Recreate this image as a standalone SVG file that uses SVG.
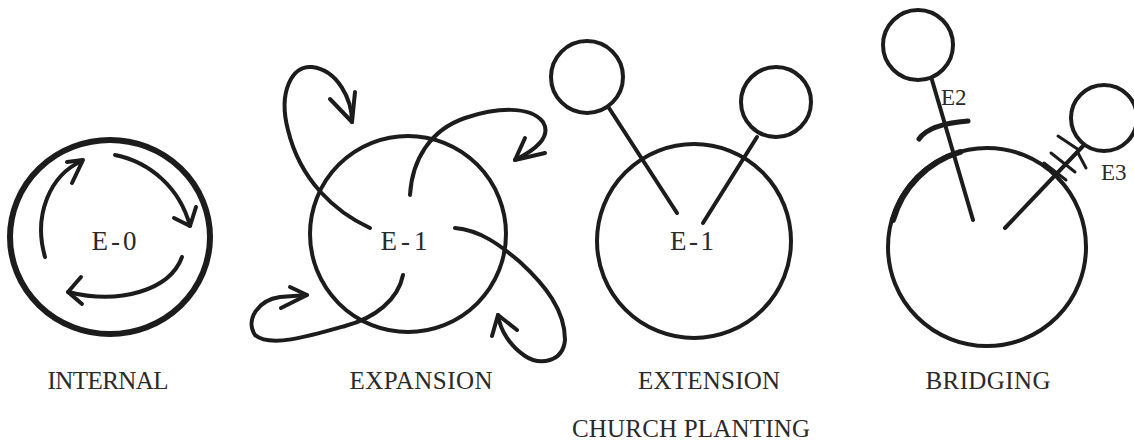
<svg xmlns="http://www.w3.org/2000/svg" width="1134" height="443" viewBox="0 0 1134 443">
<style>
.ln{fill:none;stroke:#1c1c1c;stroke-width:4;stroke-linecap:round;stroke-linejoin:round}
.thick{stroke-width:6}
.ar{fill:none;stroke:#1c1c1c;stroke-width:4;stroke-linecap:round;stroke-linejoin:round}
.lbl{font-family:"Liberation Serif","Times New Roman",serif;font-size:25px;fill:#2a2a2a;text-anchor:middle}
.ctr{font-family:"Liberation Serif","Times New Roman",serif;font-size:27px;fill:#2a2a2a;text-anchor:middle}
.sm{font-family:"Liberation Serif","Times New Roman",serif;font-size:23px;fill:#2a2a2a}
</style>
<rect width="1134" height="443" fill="#ffffff"/>

<g id="internal">
<ellipse class="ln thick" cx="110" cy="237" rx="100" ry="97"/>
<text class="ctr" x="114" y="250" textLength="45" lengthAdjust="spacing">E-0</text>
</g>

<g id="expansion">
<circle class="ln" cx="408" cy="234" r="98"/>
<text class="ctr" x="404" y="250" textLength="47" lengthAdjust="spacing">E-1</text>
</g>

<g id="extension">
<circle class="ln" cx="694" cy="241" r="97"/>
<circle class="ln" cx="587" cy="77" r="36"/>
<circle class="ln" cx="776" cy="102" r="35"/>
<text class="ctr" x="692" y="250" textLength="44" lengthAdjust="spacing">E-1</text>
</g>

<g id="bridging">
<circle class="ln" cx="987" cy="247" r="99"/>
<path class="ln" d="M893,220 A99,99 0 0 1 960,152" style="stroke-width:6"/>
<circle class="ln" cx="918" cy="45" r="35"/>
<circle class="ln" cx="1104" cy="118" r="33"/>
<text class="sm" x="941" y="105">E2</text>
<text class="sm" x="1101" y="180">E3</text>
</g>

<g id="labels">
<text class="lbl" x="108" y="389" textLength="121" lengthAdjust="spacing">INTERNAL</text>
<text class="lbl" x="421" y="389" textLength="143" lengthAdjust="spacing">EXPANSION</text>
<text class="lbl" x="709" y="389" textLength="142" lengthAdjust="spacing">EXTENSION</text>
<text class="lbl" x="988" y="389" textLength="125" lengthAdjust="spacing">BRIDGING</text>
<text class="lbl" x="691" y="437" textLength="238" lengthAdjust="spacing">CHURCH PLANTING</text>
</g>

<g id="connectors">
<path class="ln" d="M45,257 C33,215 50,175 82,161"/>
<polyline class="ar" points="67,162 83,160 72,183"/>
<path class="ln" d="M115,155 C150,162 180,188 190,226"/>
<polyline class="ar" points="196,207 190,226 174,218"/>
<path class="ln" d="M182,257 C170,290 120,305 68,292"/>
<polyline class="ar" points="81,277 68,292 82,304"/>

<path class="ln" d="M370,228 C335,212 300,180 288,130 C278,92 292,65 312,67 C338,70 352,100 352,122"/>
<polyline class="ar" points="330,99 352,122 355,92"/>
<path class="ln" d="M410,195 C412,160 430,130 465,118 C495,108 530,105 543,122 C552,137 535,150 515,160"/>
<polyline class="ar" points="525,138 515,160 545,153"/>
<path class="ln" d="M455,228 C480,230 500,245 520,262 C545,285 565,310 565,340 C563,362 540,366 525,356 C510,346 500,330 498,315"/>
<polyline class="ar" points="492,336 498,315 517,330"/>
<path class="ln" d="M403,275 C398,300 375,318 345,326 C310,336 270,348 255,335 C245,320 258,300 280,297 L307,295"/>
<polyline class="ar" points="290,287 307,295 281,308"/>

<line class="ln" x1="609" y1="108" x2="677" y2="213"/>
<line class="ln" x1="757" y1="137" x2="703" y2="223"/>

<line class="ln" x1="932" y1="80" x2="973" y2="220"/>
<path class="ln" d="M919,139 Q929,124 968,121" style="stroke-width:5"/>
<line class="ln" x1="1005" y1="228" x2="1083" y2="146"/>
<line class="ln" x1="1044" y1="163" x2="1066" y2="180" style="stroke-width:3"/>
<line class="ln" x1="1051" y1="153" x2="1075" y2="172" style="stroke-width:3"/>
<line class="ln" x1="1058" y1="136" x2="1079" y2="150" style="stroke-width:3"/>
<line class="ln" x1="1078" y1="153" x2="1086" y2="168" style="stroke-width:3"/>
</g>
</svg>
